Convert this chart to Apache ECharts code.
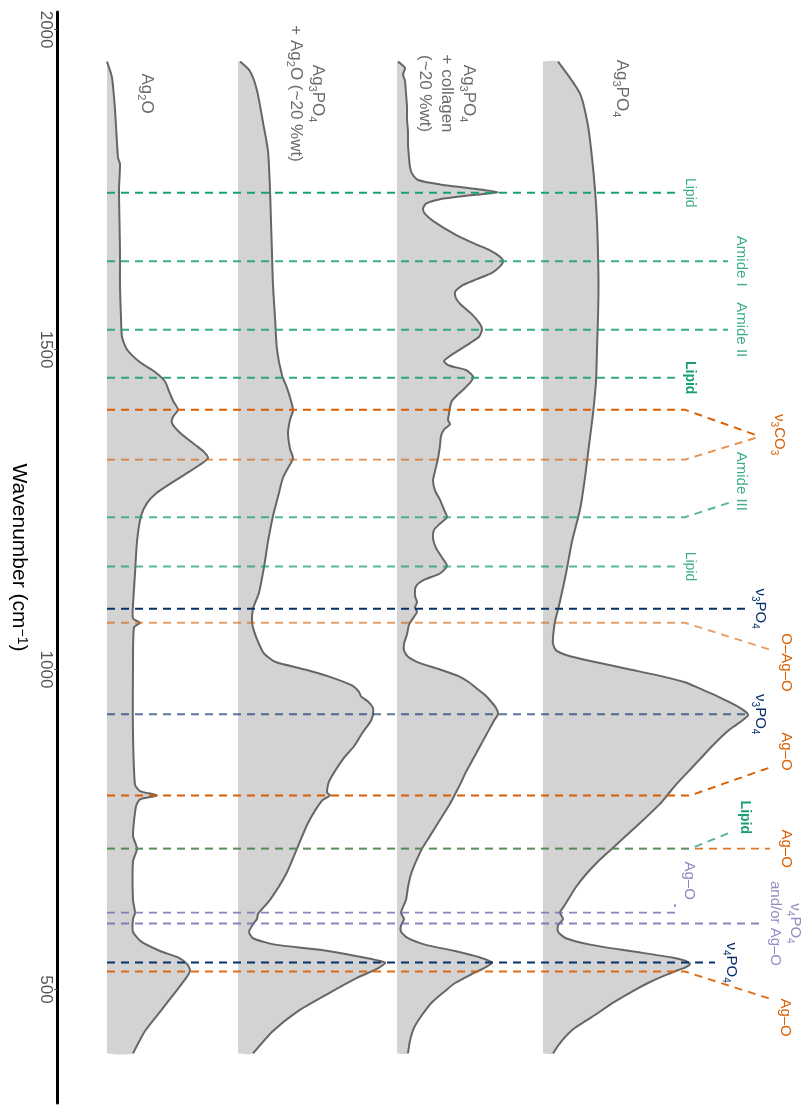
<!DOCTYPE html>
<html><head><meta charset="utf-8">
<script src="https://cdn.jsdelivr.net/npm/echarts@6/dist/echarts.min.js"></script>
<style>html,body{margin:0;padding:0;background:#fff}#c{width:809px;height:1109px}</style>
</head><body><div id="c"></div>
<script>
// ---- data ----
const wnTicks = [500, 1000, 1500, 2000];
const baselines = [0.50, 1.81, 3.40, 4.86];   // vertical offset of each spectrum
const ag2o = [[1950,0.00],[1925,0.05],[1875,0.08],[1800,0.11],[1790,0.13],[1750,0.12],[1700,0.125],[1650,0.13],[1600,0.13],[1550,0.14],[1520,0.15],[1500,0.20],[1480,0.33],[1465,0.48],[1450,0.58],[1435,0.62],[1420,0.66],[1406,0.71],[1395,0.66],[1385,0.65],[1370,0.73],[1350,0.89],[1340,0.97],[1330,1.01],[1320,0.93],[1305,0.78],[1290,0.63],[1275,0.49],[1260,0.40],[1240,0.34],[1200,0.30],[1150,0.28],[1100,0.26],[1080,0.26],[1073,0.33],[1066,0.27],[1000,0.26],[900,0.26],[820,0.28],[810,0.33],[803,0.50],[797,0.33],[786,0.29],[740,0.26],[720,0.30],[700,0.26],[640,0.26],[620,0.28],[610,0.26],[590,0.26],[575,0.34],[560,0.53],[550,0.71],[540,0.80],[530,0.83],[520,0.80],[495,0.68],[465,0.53],[435,0.38],[400,0.26]];
const ag3po4Ag2o = [[1950,0.02],[1935,0.12],[1905,0.19],[1855,0.25],[1810,0.30],[1750,0.32],[1700,0.33],[1650,0.34],[1600,0.35],[1550,0.37],[1500,0.39],[1460,0.44],[1440,0.49],[1420,0.53],[1405,0.55],[1390,0.52],[1370,0.50],[1345,0.52],[1330,0.55],[1315,0.50],[1300,0.45],[1270,0.40],[1240,0.35],[1200,0.30],[1160,0.26],[1120,0.21],[1095,0.15],[1075,0.14],[1060,0.16],[1040,0.21],[1025,0.26],[1012,0.37],[1000,0.67],[990,0.89],[975,1.14],[965,1.21],[958,1.23],[950,1.30],[940,1.35],[930,1.35],[920,1.33],[900,1.24],[880,1.16],[860,1.05],[825,0.91],[808,0.89],[803,0.92],[795,0.84],[760,0.70],[720,0.59],[680,0.48],[640,0.32],[618,0.20],[610,0.19],[602,0.15],[590,0.11],[580,0.15],[570,0.37],[562,0.82],[552,1.19],[542,1.47],[533,1.40],[518,1.19],[495,0.92],[465,0.59],[435,0.35],[400,0.15]];
const ag3po4Collagen = [[1950,0.01],[1940,0.08],[1930,0.06],[1920,0.08],[1900,0.09],[1880,0.10],[1860,0.10],[1840,0.11],[1820,0.11],[1800,0.12],[1785,0.13],[1775,0.15],[1765,0.21],[1758,0.43],[1752,0.73],[1746,1.01],[1741,0.73],[1735,0.43],[1728,0.29],[1720,0.26],[1712,0.28],[1700,0.37],[1680,0.58],[1665,0.78],[1655,0.93],[1645,1.03],[1638,1.06],[1630,1.03],[1620,0.95],[1610,0.80],[1600,0.65],[1590,0.58],[1580,0.59],[1570,0.64],[1555,0.75],[1540,0.83],[1531,0.85],[1520,0.82],[1510,0.73],[1500,0.63],[1490,0.53],[1482,0.47],[1475,0.52],[1468,0.69],[1458,0.76],[1450,0.74],[1440,0.68],[1430,0.61],[1420,0.55],[1410,0.53],[1400,0.52],[1390,0.51],[1383,0.53],[1375,0.47],[1365,0.44],[1350,0.43],[1330,0.41],[1310,0.38],[1295,0.36],[1280,0.38],[1265,0.43],[1250,0.47],[1238,0.50],[1228,0.43],[1218,0.37],[1205,0.36],[1190,0.39],[1175,0.45],[1162,0.50],[1150,0.43],[1140,0.27],[1130,0.19],[1115,0.18],[1105,0.20],[1097,0.18],[1090,0.20],[1080,0.16],[1070,0.12],[1055,0.10],[1040,0.07],[1030,0.07],[1020,0.11],[1010,0.23],[1000,0.43],[990,0.61],[980,0.72],[970,0.80],[960,0.88],[950,0.94],[940,0.99],[930,1.01],[920,0.97],[900,0.90],[880,0.83],[860,0.76],[840,0.69],[820,0.63],[805,0.58],[790,0.53],[760,0.41],[740,0.33],[720,0.25],[700,0.19],[680,0.14],[660,0.11],[640,0.09],[620,0.04],[610,0.07],[600,0.04],[590,0.04],[580,0.11],[570,0.28],[560,0.58],[550,0.83],[542,0.95],[535,0.89],[525,0.76],[510,0.58],[500,0.50],[480,0.35],[460,0.25],[440,0.17],[420,0.13],[400,0.11]];
const ag3po4 = [[1950,0.15],[1900,0.37],[1850,0.45],[1800,0.49],[1750,0.52],[1700,0.54],[1650,0.55],[1600,0.555],[1550,0.55],[1500,0.54],[1450,0.53],[1400,0.50],[1350,0.46],[1300,0.42],[1250,0.37],[1200,0.29],[1150,0.23],[1100,0.16],[1075,0.12],[1050,0.10],[1040,0.10],[1030,0.13],[1025,0.19],[1020,0.29],[1010,0.57],[1000,0.87],[990,1.17],[980,1.42],[970,1.57],[960,1.72],[950,1.85],[940,1.97],[932,2.04],[928,2.05],[920,1.99],[910,1.90],[900,1.82],[880,1.69],[860,1.57],[840,1.45],[820,1.33],[805,1.25],[790,1.17],[760,0.97],[740,0.83],[720,0.69],[700,0.55],[680,0.43],[660,0.33],[640,0.25],[630,0.21],[620,0.17],[610,0.20],[600,0.15],[590,0.15],[580,0.23],[570,0.47],[560,0.87],[550,1.29],[545,1.42],[540,1.47],[535,1.43],[530,1.35],[520,1.19],[510,1.05],[500,0.93],[480,0.71],[460,0.52],[440,0.32],[420,0.19],[400,0.10]];
const spectra = [ag2o, ag3po4Ag2o, ag3po4Collagen, ag3po4];

const spectrumLabels = ['{n|Ag}{s|2}{n|O}', '{n|Ag}{s|3}{n|PO}{s|4}\n{n|+ Ag}{s|2}{n|O (~20 %wt)}', '{n|Ag}{s|3}{n|PO}{s|4}\n{n|+ collagen}\n{n|(~20 %wt)}', '{n|Ag}{s|3}{n|PO}{s|4}'];
const spectrumLabelPos = [[0.90, 1900], [2.50, 1900], [3.90, 1900], [5.65, 1908]];

// reference lines: wavenumber, end of straight part, optional leader end [x, wavenumber]
const refWn   = [1745, 1638, 1531, 1456, 1406, 1328, 1238, 1161, 1095, 1073, 930, 803, 720, 720, 620, 603, 542, 528];
const refEnd  = [6.18, 6.71, 6.71, 6.18, 6.28, 6.28, 6.28, 6.18, 6.91, 6.28, 6.91, 6.33, 7.13, 6.33, 6.18, 7.03, 6.58, 6.28];
const refTo   = [null, null, null, null, [7.03,1364], [7.03,1364], [6.73,1261], null, null, [7.13,1031], null, [7.15,848], null, [6.73,745], [6.18,633], null, null, [7.16,484]];
const refKind = ['G','G','G','G','O','O','G','G','N','O','N','O','O','G','P','P','N','O'];
const refAlpha = [1, 0.85, 0.85, 0.9, 1, 0.7, 0.75, 0.75, 1, 0.6, 0.65, 1, 0.85, 0.75, 0.85, 0.85, 1, 0.9];
const refStartX = 0.50;

const annText = ['Lipid', 'Amide I', 'Amide II', 'Lipid', '{n|ν}{s|3}{n|CO}{s|3}', 'Amide III', 'Lipid', '{n|ν}{s|3}{n|PO}{s|4}', 'O–Ag–O', '{n|ν}{s|3}{n|PO}{s|4}', 'Ag–O', 'Ag–O', 'Lipid', 'Ag–O', '{n|ν}{s|4}{n|PO}{s|4}\n{n|and/or Ag–O}', '{n|ν}{s|4}{n|PO}{s|4}', 'Ag–O'];
const annPos  = [[6.33,1745],[6.84,1638],[6.84,1531],[6.33,1456],[7.22,1367],[6.84,1294],[6.33,1161],[7.03,1095],[7.29,1011],[7.03,930],[7.29,872],[7.29,720],[6.88,769],[6.32,670],[7.28,603],[6.74,542],[7.28,456]];
const annKind = ['G','G','G','G','O','G','G','N','O','N','O','O','G','P','P','N','O'];
const annBold = [false,false,false,true,false,false,false,false,false,false,false,false,true,false,false,false,false];
const annAlpha = [0.85,0.85,0.85,1,1,0.85,0.85,1,1,1,1,1,1,0.85,0.8,1,1];

// ---- styles ----
const COLORS = {G:'#1b9e77', O:'#d95f02', P:'#7570b3', N:'#08306b'};
const FONT = '"Liberation Sans", Arial, Helvetica, sans-serif';
const SMOOTH = 0.22;

const chart = echarts.init(document.getElementById('c'), null, {renderer:'canvas'});

function richFor(size, color) {
  return {
    n: {fontSize: size, lineHeight: size + 5, fill: color, fontFamily: FONT},
    s: {fontSize: Math.round(size * 0.65), lineHeight: Math.round(size * 0.65), verticalAlign: 'bottom', fill: color, fontFamily: FONT}
  };
}
function wrapRich(t) { return t.indexOf('{') === 0 ? t : t.split('\n').map(x => '{n|' + x + '}').join('\n'); }

chart.setOption({
  animation: false,
  backgroundColor: '#fff',
  grid: {left: 57, right: 0, top: 12, bottom: 6},
  xAxis: {type: 'value', min: 0, max: 7.52, show: false},
  yAxis: {
    type: 'value', min: 322.5, max: 2027.5,
    name: 'Wavenumber (cm{sup|−1})', nameLocation: 'middle', nameRotate: -90, nameGap: 24,
    nameTextStyle: {fontSize: 21, color: '#000', fontFamily: FONT,
      rich: {sup: {fontSize: 14, verticalAlign: 'top', lineHeight: 14, color: '#000', fontFamily: FONT}}},
    axisLine: {show: true, lineStyle: {color: '#000', width: 3}},
    axisTick: {show: true, customValues: wnTicks, length: 3, lineStyle: {color: '#555', width: 1}},
    axisLabel: {customValues: wnTicks, rotate: -90, fontSize: 17, color: '#555', fontFamily: FONT, margin: 3,
      formatter: v => String(v)},
    splitLine: {show: false}
  },
  series: [
    {
      type: 'custom', silent: true, clip: false, z: 2,
      data: spectra.map((_, i) => [baselines[i], 1000]),
      renderItem(params, api) {
        const i = params.dataIndex, s = spectra[i], b = baselines[i];
        const pts = s.map(d => api.coord([b + d[1], d[0]]));
        const first = api.coord([b, s[0][0]]), last = api.coord([b, s[s.length - 1][0]]);
        return {type: 'group', children: [
          // filled area: open smoothed path, closed implicitly along the baseline
          {type: 'polyline', shape: {points: [first].concat(pts, [last]), smooth: SMOOTH}, style: {fill: '#d3d3d3', stroke: null}},
          {type: 'polyline', shape: {points: pts, smooth: SMOOTH}, style: {stroke: '#666', lineWidth: 2, fill: null, lineJoin: 'round'}}
        ]};
      }
    },
    {
      type: 'custom', silent: true, clip: false, z: 3,
      data: refWn.map((w, i) => [refEnd[i], w]),
      renderItem(params, api) {
        const i = params.dataIndex;
        const pts = [api.coord([refStartX, refWn[i]]), api.coord([refEnd[i], refWn[i]])];
        if (refTo[i]) pts.push(api.coord(refTo[i]));
        return {type: 'polyline', shape: {points: pts},
          style: {stroke: COLORS[refKind[i]], opacity: refAlpha[i], lineWidth: 1.9, lineDash: [8, 6], fill: null}};
      }
    },
    {
      type: 'custom', silent: true, clip: false, z: 4,
      data: annPos,
      renderItem(params, api) {
        const i = params.dataIndex, p = api.coord(annPos[i]), c = COLORS[annKind[i]];
        const size = annText[i].indexOf('Lipid') === 0 ? 14 : 15;
        const rich = richFor(size, c);
        if (annBold[i]) { rich.n.fontWeight = 'bold'; }
        return {type: 'text', x: p[0], y: p[1], rotation: -Math.PI / 2,
          style: {text: wrapRich(annText[i]), rich: rich, x: 0, y: 0, align: 'center', verticalAlign: 'middle', opacity: annAlpha[i], fill: c}};
      }
    },
    {
      type: 'custom', silent: true, clip: false, z: 4,
      data: spectrumLabelPos,
      renderItem(params, api) {
        const i = params.dataIndex, p = api.coord(spectrumLabelPos[i]);
        return {type: 'text', x: p[0], y: p[1], rotation: -Math.PI / 2,
          style: {text: spectrumLabels[i], rich: richFor(17, '#6b6b6b'), x: 0, y: 0, align: 'center', verticalAlign: 'middle', fill: '#6b6b6b'}};
      }
    }
  ]
});
</script></body></html>
